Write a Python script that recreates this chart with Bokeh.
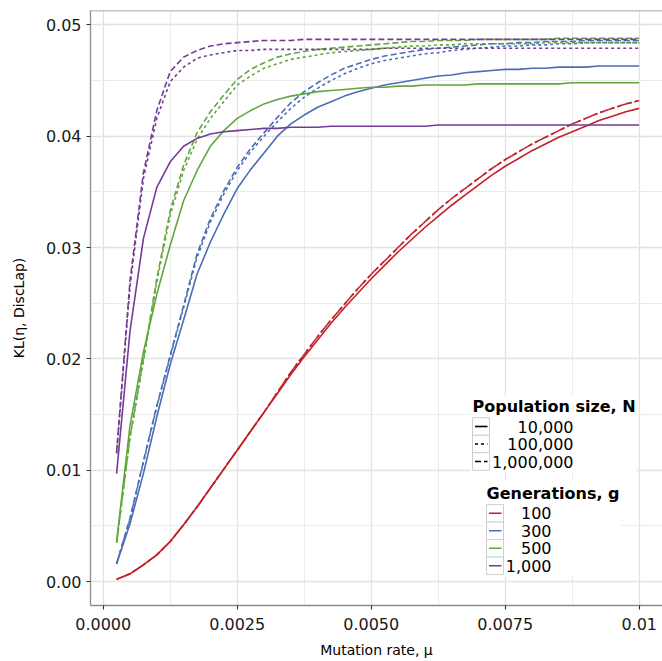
from bokeh.plotting import figure
from bokeh.models import FixedTicker, CustomJSTickFormatter, Span, Range1d
from bokeh.core.properties import value
from bokeh.embed import file_html
from bokeh.resources import INLINE

# ---------------- data ----------------
mu = [0.00025, 0.0005, 0.00075, 0.001, 0.00125, 0.0015, 0.00175, 0.002, 0.00225, 0.0025,
      0.00275, 0.003, 0.00325, 0.0035, 0.00375, 0.004, 0.00425, 0.0045, 0.00475, 0.005,
      0.00525, 0.0055, 0.00575, 0.006, 0.00625, 0.0065, 0.00675, 0.007, 0.00725, 0.0075,
      0.00775, 0.008, 0.00825, 0.0085, 0.00875, 0.009, 0.00925, 0.0095, 0.00975, 0.01]

generations = ["100", "300", "500", "1,000"]
pop_sizes = ["10,000", "100,000", "1,000,000"]

# g = 100
g100_n1e4 = [0.0002, 0.0007, 0.0015, 0.0024, 0.0036, 0.0051, 0.0067, 0.0084, 0.0101, 0.0118,
             0.0135, 0.0152, 0.0169, 0.0186, 0.0202, 0.0217, 0.0232, 0.0246, 0.0259, 0.0272,
             0.0284, 0.0296, 0.0307, 0.0318, 0.0328, 0.0338, 0.0347, 0.0356, 0.0365, 0.0373,
             0.0380, 0.0387, 0.0393, 0.0399, 0.0404, 0.0409, 0.0414, 0.0418, 0.0422, 0.0425]
g100_n1e5 = [0.0002, 0.0007, 0.0015, 0.0024, 0.0036, 0.0051, 0.0067, 0.0084, 0.0101, 0.0118,
             0.0135, 0.0152, 0.0170, 0.0188, 0.0204, 0.0220, 0.0235, 0.0249, 0.0263, 0.0276,
             0.0288, 0.0300, 0.0312, 0.0323, 0.0334, 0.0344, 0.0353, 0.0362, 0.0371, 0.0379,
             0.0386, 0.0393, 0.0399, 0.0405, 0.0411, 0.0416, 0.0421, 0.0425, 0.0429, 0.0432]
g100_n1e6 = [0.0002, 0.0007, 0.0015, 0.0024, 0.0036, 0.0051, 0.0067, 0.0084, 0.0101, 0.0118,
             0.0135, 0.0152, 0.0170, 0.0188, 0.0204, 0.0220, 0.0235, 0.0249, 0.0263, 0.0276,
             0.0288, 0.0300, 0.0312, 0.0323, 0.0334, 0.0344, 0.0353, 0.0362, 0.0371, 0.0379,
             0.0386, 0.0393, 0.0399, 0.0405, 0.0411, 0.0416, 0.0421, 0.0425, 0.0429, 0.0432]

# g = 300
g300_n1e4 = [0.0016, 0.0052, 0.0097, 0.0148, 0.0195, 0.0235, 0.0276, 0.0305, 0.0330, 0.0353,
             0.0370, 0.0385, 0.0400, 0.0411, 0.0419, 0.0426, 0.0431, 0.0436, 0.0440, 0.0443,
             0.0446, 0.0448, 0.0450, 0.0452, 0.0454, 0.0455, 0.0457, 0.0458, 0.0459, 0.0460,
             0.0460, 0.0461, 0.0461, 0.0462, 0.0462, 0.0462, 0.0463, 0.0463, 0.0463, 0.0463]
g300_n1e5 = [0.0016, 0.0056, 0.0107, 0.0157, 0.0202, 0.0246, 0.0291, 0.0323, 0.0348, 0.0369,
             0.0386, 0.0400, 0.0413, 0.0425, 0.0435, 0.0443, 0.0450, 0.0456, 0.0461, 0.0465,
             0.0468, 0.0470, 0.0472, 0.0474, 0.0475, 0.0477, 0.0478, 0.0479, 0.0480, 0.0481,
             0.0481, 0.0482, 0.0482, 0.0483, 0.0483, 0.0484, 0.0484, 0.0484, 0.0484, 0.0484]
g300_n1e6 = [0.0016, 0.0057, 0.0108, 0.0158, 0.0203, 0.0248, 0.0294, 0.0326, 0.0351, 0.0372,
             0.0389, 0.0403, 0.0417, 0.0430, 0.0440, 0.0448, 0.0455, 0.0461, 0.0465, 0.0469,
             0.0472, 0.0474, 0.0476, 0.0478, 0.0479, 0.0480, 0.0481, 0.0482, 0.0483, 0.0483,
             0.0484, 0.0484, 0.0485, 0.0485, 0.0485, 0.0486, 0.0486, 0.0486, 0.0486, 0.0486]

# g = 500
g500_n1e4 = [0.0036, 0.0140, 0.0206, 0.0258, 0.0302, 0.0342, 0.0369, 0.0391, 0.0405, 0.0416,
             0.0423, 0.0429, 0.0433, 0.0436, 0.0438, 0.0440, 0.0441, 0.0442, 0.0443, 0.0444,
             0.0444, 0.0445, 0.0445, 0.0446, 0.0446, 0.0446, 0.0446, 0.0447, 0.0447, 0.0447,
             0.0447, 0.0447, 0.0447, 0.0447, 0.0448, 0.0448, 0.0448, 0.0448, 0.0448, 0.0448]
g500_n1e5 = [0.0035, 0.0129, 0.0198, 0.0269, 0.0329, 0.0369, 0.0397, 0.0416, 0.0431, 0.0446,
             0.0454, 0.0461, 0.0465, 0.0469, 0.0471, 0.0473, 0.0475, 0.0476, 0.0477, 0.0478,
             0.0479, 0.0480, 0.0481, 0.0481, 0.0482, 0.0482, 0.0483, 0.0483, 0.0483, 0.0483,
             0.0483, 0.0483, 0.0484, 0.0484, 0.0484, 0.0484, 0.0484, 0.0484, 0.0484, 0.0484]
g500_n1e6 = [0.0035, 0.0130, 0.0200, 0.0272, 0.0333, 0.0374, 0.0403, 0.0422, 0.0437, 0.0451,
             0.0460, 0.0466, 0.0471, 0.0474, 0.0476, 0.0478, 0.0479, 0.0480, 0.0481, 0.0482,
             0.0483, 0.0484, 0.0485, 0.0485, 0.0486, 0.0486, 0.0486, 0.0487, 0.0487, 0.0487,
             0.0487, 0.0487, 0.0487, 0.0488, 0.0488, 0.0488, 0.0488, 0.0488, 0.0488, 0.0488]

# g = 1,000
g1000_n1e4 = [0.0097, 0.0225, 0.0308, 0.0354, 0.0377, 0.0391, 0.0398, 0.0402, 0.0404, 0.0405,
              0.0406, 0.0407, 0.0407, 0.0408, 0.0408, 0.0408, 0.0409, 0.0409, 0.0409, 0.0409,
              0.0409, 0.0409, 0.0409, 0.0409, 0.0410, 0.0410, 0.0410, 0.0410, 0.0410, 0.0410,
              0.0410, 0.0410, 0.0410, 0.0410, 0.0410, 0.0410, 0.0410, 0.0410, 0.0410, 0.0410]
g1000_n1e5 = [0.0115, 0.0265, 0.0362, 0.0416, 0.0449, 0.0462, 0.0470, 0.0473, 0.0475, 0.0477,
              0.0477, 0.0478, 0.0478, 0.0478, 0.0478, 0.0478, 0.0478, 0.0478, 0.0478, 0.0478,
              0.0479, 0.0479, 0.0479, 0.0479, 0.0479, 0.0479, 0.0479, 0.0479, 0.0479, 0.0479,
              0.0479, 0.0479, 0.0479, 0.0479, 0.0479, 0.0479, 0.0479, 0.0479, 0.0479, 0.0479]
g1000_n1e6 = [0.0116, 0.0270, 0.0367, 0.0423, 0.0458, 0.0471, 0.0477, 0.0481, 0.0483, 0.0484,
              0.0485, 0.0486, 0.0486, 0.0486, 0.0487, 0.0487, 0.0487, 0.0487, 0.0487, 0.0487,
              0.0487, 0.0487, 0.0487, 0.0487, 0.0487, 0.0487, 0.0487, 0.0487, 0.0487, 0.0487,
              0.0487, 0.0487, 0.0487, 0.0487, 0.0487, 0.0487, 0.0487, 0.0487, 0.0487, 0.0487]

series = {
    "100":   [g100_n1e4, g100_n1e5, g100_n1e6],
    "300":   [g300_n1e4, g300_n1e5, g300_n1e6],
    "500":   [g500_n1e4, g500_n1e5, g500_n1e6],
    "1,000": [g1000_n1e4, g1000_n1e5, g1000_n1e6],
}

# ---------------- style ----------------
colors = {"100": "#C2202A", "300": "#4A6DB5", "500": "#62A63E", "1,000": "#753A96"}
dashes = ["solid", "3 3", "6 3"]
FONT = "DejaVu Sans"

W, H = 662, 661
BL, BB, BT = 90, 56, 10
PX_X = 53600.0
PX_Y = 11135.0
X_START = -12.7 / PX_X
X_END = X_START + (W - BL) / PX_X
Y_START = -23.9 / PX_Y
Y_END = Y_START + (H - BT - BB) / PX_Y


def X(px):
    return X_START + (px - BL) / PX_X


def Y(py):
    return Y_START + (H - BB - py) / PX_Y


p = figure(width=W, height=H, output_backend="svg", toolbar_location=None,
           x_range=Range1d(X_START, X_END), y_range=Range1d(Y_START, Y_END),
           min_border_left=BL, min_border_right=0, min_border_top=BT, min_border_bottom=BB)
p.background_fill_color = "white"
p.border_fill_color = "white"
p.outline_line_color = None

# grid
p.xaxis.ticker = FixedTicker(ticks=[0, 0.0025, 0.005, 0.0075, 0.01],
                             minor_ticks=[0.00125, 0.00375, 0.00625, 0.00875])
p.yaxis.ticker = FixedTicker(ticks=[0, 0.01, 0.02, 0.03, 0.04, 0.05],
                             minor_ticks=[0.005, 0.015, 0.025, 0.035, 0.045])
for g in (p.xgrid, p.ygrid):
    g.grid_line_color = "#e2e2e2"
    g.grid_line_width = 1.3
    g.minor_grid_line_color = "#ebebeb"
    g.minor_grid_line_width = 1.0

p.xaxis.formatter = CustomJSTickFormatter(
    code="return Math.abs(tick - 0.01) < 1e-9 ? '0.01' : tick.toFixed(4);")
p.yaxis.formatter = CustomJSTickFormatter(code="return tick.toFixed(2);")

for ax in (p.xaxis, p.yaxis):
    ax.axis_line_color = "#8c8c8c"
    ax.axis_line_width = 1.3
    ax.major_tick_line_color = "#333333"
    ax.major_tick_line_width = 1.1
    ax.major_tick_out = 4
    ax.major_tick_in = 0
    ax.minor_tick_line_color = None
    ax.major_label_text_font = FONT
    ax.major_label_text_font_size = "16px"
    ax.major_label_text_color = "#1a1a1a"
    ax.axis_label_text_font = FONT
    ax.axis_label_text_font_size = "14px"
    ax.axis_label_text_font_style = "normal"
    ax.axis_label_text_color = "#000000"

p.xaxis.axis_label = "Mutation rate, \u03bc"
p.yaxis.axis_label = "KL(\u03b7, DiscLap)"
p.xaxis.major_label_standoff = 8
p.yaxis.major_label_standoff = 5
p.xaxis.axis_label_standoff = 9
p.yaxis.axis_label_standoff = 16

p.add_layout(Span(location=Y_END, dimension="width", line_color="#8c8c8c", line_width=1.6))

# curves
for gname in generations:
    for j in range(3):
        p.line(mu, series[gname][j], line_color=colors[gname], line_width=1.6,
               line_dash=dashes[j])

# ---------------- legends (drawn manually, ggplot style) ----------------
key_border = "#cfcfcf"

# legend 1 : population size
p.quad(left=[X(470)], right=[X(636)], top=[Y(395)], bottom=[Y(472)],
       fill_color="white", line_color=None)
p.text(x=[X(472)], y=[Y(406)], text=["Population size, N"], text_font=value(FONT),
       text_font_size="16px", text_font_style="bold", text_baseline="middle",
       text_align="left", text_color="black")
rows1 = [426, 443.5, 461]
p.quad(left=[X(472)] * 3, right=[X(489)] * 3,
       top=[Y(r - 8.75) for r in rows1], bottom=[Y(r + 8.75) for r in rows1],
       fill_color="white", line_color=key_border, line_width=1)
for j, r in enumerate(rows1):
    p.segment(x0=[X(474.5)], y0=[Y(r)], x1=[X(487)], y1=[Y(r)], line_color="black",
              line_width=1.6, line_dash=dashes[j])
p.text(x=[X(573)] * 3, y=[Y(r) for r in rows1], text=pop_sizes, text_font=value(FONT),
       text_font_size="16px", text_baseline="middle", text_align="right", text_color="black")

# legend 2 : generations
p.quad(left=[X(482)], right=[X(621)], top=[Y(480)], bottom=[Y(576)],
       fill_color="white", line_color=None)
p.text(x=[X(486)], y=[Y(493)], text=["Generations, g"], text_font=value(FONT),
       text_font_size="16px", text_font_style="bold", text_baseline="middle",
       text_align="left", text_color="black")
rows2 = [512.8, 530.3, 547.8, 565.3]
p.quad(left=[X(486)] * 4, right=[X(503)] * 4,
       top=[Y(r - 8.75) for r in rows2], bottom=[Y(r + 8.75) for r in rows2],
       fill_color="white", line_color=key_border, line_width=1)
for gname, r in zip(generations, rows2):
    p.segment(x0=[X(488.5)], y0=[Y(r)], x1=[X(501)], y1=[Y(r)], line_color=colors[gname],
              line_width=1.6)
p.text(x=[X(551)] * 4, y=[Y(r) for r in rows2], text=generations, text_font=value(FONT),
       text_font_size="16px", text_baseline="middle", text_align="right", text_color="black")

open("out.html", "w").write(file_html(p, INLINE))
